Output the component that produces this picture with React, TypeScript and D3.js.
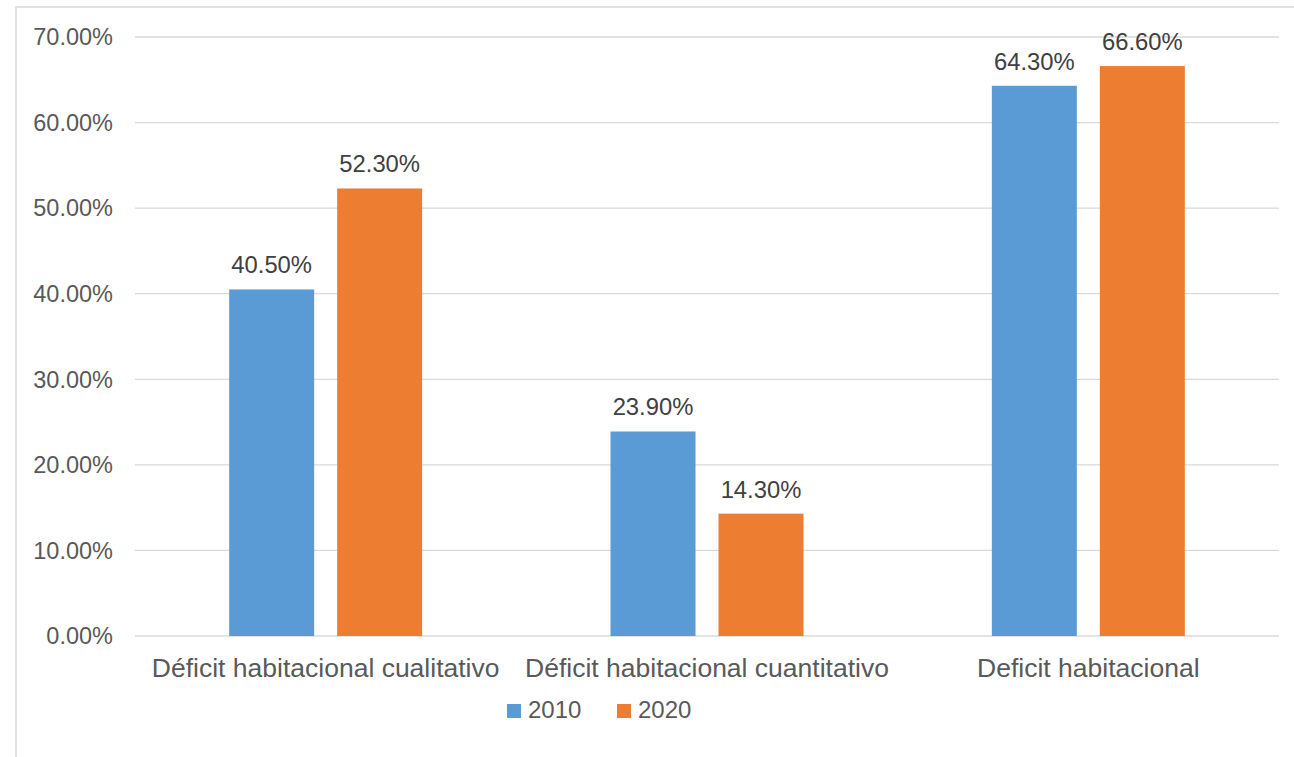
import React from "react";
import * as d3 from "d3";

const categories = ["Déficit habitacional cualitativo", "Déficit habitacional cuantitativo", "Deficit habitacional"];
const seriesNames = ["2010", "2020"];
const values2010 = [40.5, 23.9, 64.3];
const values2020 = [52.3, 14.3, 66.6];
const yTicks = [0, 10, 20, 30, 40, 50, 60, 70];
const colors = ["#5b9bd5", "#ed7d31"];

const W = 1294, H = 757;
const plot = { left: 135, right: 1279, top: 37, bottom: 636 };
const FONT = "'Liberation Sans', Arial, sans-serif";

export default function App() {
  const x = d3.scaleBand<string>().domain(categories).range([plot.left, plot.right]).paddingInner(0).paddingOuter(0);
  const y = d3.scaleLinear().domain([0, 70]).range([plot.bottom, plot.top]);
  const barW = 85, gap = 23;
  const series = [values2010, values2020];
  return (
    <svg width={W} height={H} style={{ position: "absolute", left: 0, top: 0, background: "#fff" }}>
      <rect x={16} y={7} width={W + 20} height={H + 20} fill="#fff" stroke="#d9d9d9" strokeWidth={1.5} />
      {yTicks.map((t) => (
        <g key={t}>
          <line x1={plot.left} x2={plot.right} y1={y(t)} y2={y(t)} stroke="#d9d9d9" strokeWidth={1.3} />
          <text x={113} y={y(t)} dy="0.35em" textAnchor="end" fontFamily={FONT} fontSize={23.5} fill="#595959">
            {t.toFixed(2)}%
          </text>
        </g>
      ))}
      {categories.map((c, i) => {
        const cx = x(c)! + x.bandwidth() / 2;
        return (
          <g key={c}>
            {series.map((vals, s) => {
              const bx = s === 0 ? cx - gap / 2 - barW : cx + gap / 2;
              return (
                <g key={s}>
                  <rect x={bx} y={y(vals[i])} width={barW} height={y(0) - y(vals[i])} fill={colors[s]} />
                  <text x={bx + barW / 2} y={y(vals[i]) - 16} textAnchor="middle" fontFamily={FONT} fontSize={23.8} fill="#404040">
                    {vals[i].toFixed(2)}%
                  </text>
                </g>
              );
            })}
            <text x={cx} y={677} textAnchor="middle" fontFamily={FONT} fontSize={26.5} fill="#595959">
              {c}
            </text>
          </g>
        );
      })}
      {seriesNames.map((n, s) => {
        const lx = s === 0 ? 507 : 617;
        return (
          <g key={n}>
            <rect x={lx} y={704} width={14} height={14} fill={colors[s]} />
            <text x={lx + 21} y={718} fontFamily={FONT} fontSize={24} fill="#595959">{n}</text>
          </g>
        );
      })}
    </svg>
  );
}
